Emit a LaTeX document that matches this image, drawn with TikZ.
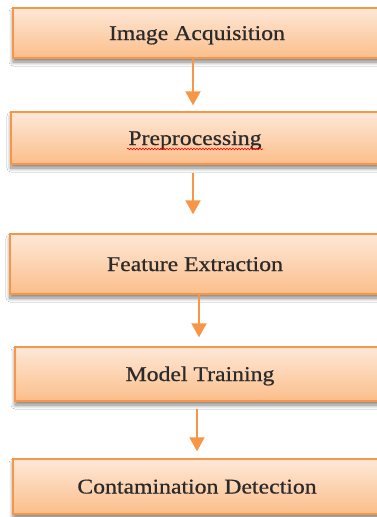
\documentclass[tikz,border=0pt]{standalone}
\usepackage{fontspec}
\setmainfont{Liberation Serif}[FakeStretch=1.13, FakeBold=0.6]
\usetikzlibrary{arrows.meta,shadows.blur,decorations.pathmorphing}
\definecolor{boxline}{HTML}{F79646}
\definecolor{boxtop}{HTML}{FEE8D8}
\definecolor{boxbot}{HTML}{FBBE8A}
\definecolor{txt}{HTML}{2A2A2A}
\tikzset{
  stepbox/.style={rectangle, draw=boxline, line width=1.4pt,
    top color=boxtop, bottom color=boxbot, inner sep=0pt,
    font=\fontsize{21}{25}\selectfont, text=txt,
    text height=14pt, text depth=0pt,
    blur shadow={shadow xshift=0pt, shadow yshift=-4pt, shadow blur steps=8,
      shadow blur radius=4pt, shadow opacity=50}},
  flowarrow/.style={draw=boxline, line width=2pt,
    -{Triangle[width=15pt,length=14pt]}}
}
\begin{document}
\begin{tikzpicture}[x=1pt,y=-1pt]
\useasboundingbox (0,0) rectangle (377,517);
\clip (0,0) rectangle (377,517);
\fill[white] (0,0) rectangle (377,517);
\node[stepbox, minimum width=368pt, minimum height=50pt] (b1) at (197,33) {Image Acquisition};
\node[stepbox, minimum width=368pt, minimum height=52pt] (b2) at (195,138) {Preprocessing};
\node[stepbox, minimum width=370pt, minimum height=60pt] (b3) at (195,264) {Feature Extraction};
\node[stepbox, minimum width=370pt, minimum height=54pt] (b4) at (200,374) {Model Training};
\node[stepbox, minimum width=368pt, minimum height=55pt] (b5) at (197,486.5) {Contamination Detection};
\coordinate (w1s) at (127,149);
\coordinate (w1e) at (263,149);
\draw[red, line width=0.6pt, decorate, decoration={snake, amplitude=0.8pt, segment length=3pt}] (w1s) -- (w1e);
\coordinate (x1) at (193,0);
\coordinate (x2) at (193,0);
\coordinate (x3) at (199,0);
\coordinate (x4) at (197,0);
\draw[flowarrow, shorten >=6pt] (b1.south -| x1) -- (b2.north -| x1);
\draw[flowarrow, shorten <=8pt, shorten >=19pt] (b2.south -| x2) -- (b3.north -| x2);
\draw[flowarrow, shorten >=9pt] (b3.south -| x3) -- (b4.north -| x3);
\draw[flowarrow, shorten <=7pt, shorten >=7pt] (b4.south -| x4) -- (b5.north -| x4);
\end{tikzpicture}
\end{document}
